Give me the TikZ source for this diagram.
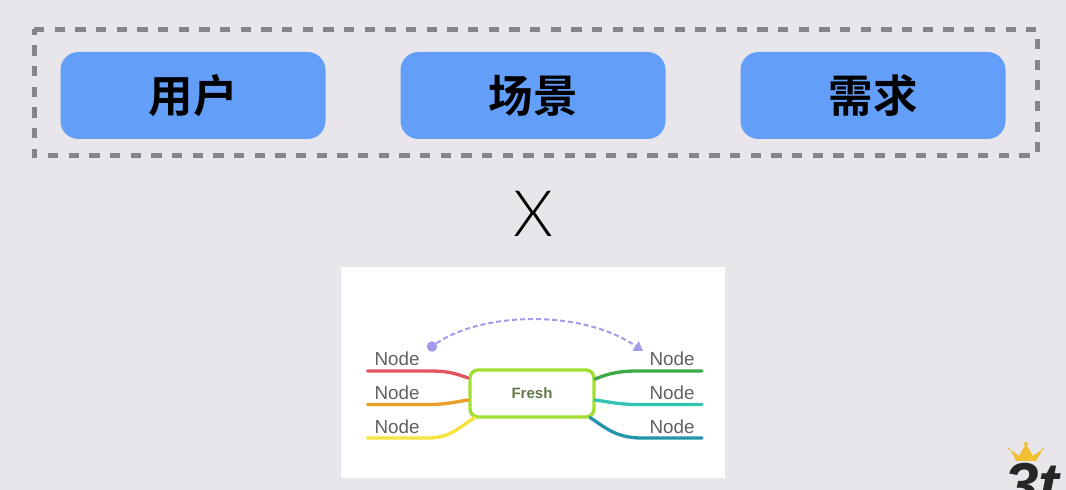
\documentclass[tikz,border=0pt]{standalone}
\usepackage{fontspec}
\setmainfont{Liberation Sans}
\newfontfamily\cjkfont[BoldFont=* Bold]{Noto Sans CJK SC}
\newfontfamily\thinfont[UprightFont=* Light]{Lato}
\usetikzlibrary{arrows.meta}
\definecolor{bgc}{HTML}{E8E6EA}
\definecolor{boxblue}{HTML}{639EF8}
\definecolor{dashgrey}{HTML}{86848C}
\definecolor{freshgreen}{HTML}{A2DF32}
\definecolor{purple1}{HTML}{A49AEC}
\tikzset{
  x=1pt,y=1pt,
  bluebox/.style={fill=boxblue,draw=none,rounded corners=18pt,minimum width=265pt,minimum height=87pt,inner sep=0pt,
    font=\cjkfont\bfseries\fontsize{44.5}{44.5}\selectfont,text=black},
  leaf/.style={font=\fontsize{18.8}{19}\selectfont,text=black!62,inner sep=0pt},
  branch/.style={line width=3.3pt,line cap=round},
}
\begin{document}
\begin{tikzpicture}
\useasboundingbox (0,0) rectangle (1066,490);
\clip (0,0) rectangle (1066,490);
\fill[bgc] (0,0) rectangle (1066,490);
% dashed frame, drawn clockwise from its top left corner
\node[minimum width=1003pt,minimum height=126.5pt,inner sep=0pt,outer sep=0pt] (frame) at (535.5,397.7) {};
\draw[dashgrey,line width=5pt,dash pattern=on 10.2pt off 10.47pt]
  (frame.north west) -- (frame.north east) -- (frame.south east) -- (frame.south west) -- cycle;
\node[bluebox] (user) at (193,394.5) {用户};
\node[bluebox] (scene) at (533,394.5) {场景};
\node[bluebox] (need) at (873,394.5) {需求};
\node[font=\thinfont\fontsize{64}{64}\selectfont,inner sep=0pt] (times) at (533.5,276.5) {X};
% picture
\node[fill=white,minimum width=384pt,minimum height=211pt,inner sep=0pt] (pic) at (533,117.5) {};
\node[draw=freshgreen,line width=3.4pt,rounded corners=8pt,fill=white,minimum width=124pt,minimum height=47pt,inner sep=0pt,
  font=\bfseries\fontsize{15}{15}\selectfont,text={rgb,255:red,96;green,122;blue,72}] (fresh) at (532,96.5) {Fresh};
\node[leaf] (n1) at (397,131) {Node};
\node[leaf] (n2) at (397,97) {Node};
\node[leaf] (n3) at (397,63) {Node};
\node[leaf] (n4) at (672,131) {Node};
\node[leaf] (n5) at (672,97) {Node};
\node[leaf] (n6) at (672,63) {Node};
\coordinate (e1) at (367.5,119);
\coordinate (e2) at (367.5,85.5);
\coordinate (e3) at (367.5,52);
\coordinate (e4) at (702,119);
\coordinate (e5) at (702,85.5);
\coordinate (e6) at (702,52);
\coordinate (s1) at (468,112);
\coordinate (s2) at (468,90);
\coordinate (s3) at (475,72.5);
\coordinate (s4) at (595,111);
\coordinate (s5) at (595,90);
\coordinate (s6) at (590,72.5);
\draw[branch,color={rgb,255:red,226;green,84;blue,96}] (e1) -- (428,119) .. controls (445,119) and (452,118) .. (s1);
\draw[branch,color={rgb,255:red,232;green,160;blue,40}] (e2) -- (430,85.5) .. controls (445,85.5) and (455,88) .. (s2);
\draw[branch,color={rgb,255:red,248;green,226;blue,60}] (e3) -- (428,52) .. controls (450,52) and (458,62) .. (s3);
\draw[branch,color={rgb,255:red,62;green,170;blue,70}] (e4) -- (638,119) .. controls (620,119) and (610,117) .. (s4);
\draw[branch,color={rgb,255:red,50;green,196;blue,176}] (e5) -- (636,85.5) .. controls (620,85.5) and (610,88) .. (s5);
\draw[branch,color={rgb,255:red,36;green,148;blue,170}] (e6) -- (642,52) .. controls (616,52) and (606,62) .. (s6);
% dashed arc
\node[circle,fill=purple1,minimum size=10.5pt,inner sep=0pt] (dot) at (432,143.5) {};
\coordinate (tip) at (643,139);
\draw[purple1,line width=2pt,dash pattern=on 5pt off 3pt,-{Triangle[length=9pt,width=11pt]}] (dot) .. controls (480,177) and (580,182) .. (tip);
% logo
\node[inner sep=0pt,anchor=base west,font=\bfseries\itshape\fontsize{62}{62}\selectfont,text={rgb,255:red,38;green,38;blue,40}] (logo) at (1004,-17) {3t};
\fill[color={rgb,255:red,242;green,190;blue,50}] (1010,41) -- (1019,34) -- (1026,46) -- (1033,34) -- (1043,41) -- (1036,29) -- (1016,29) -- cycle;
\fill[color={rgb,255:red,242;green,190;blue,50}] (1026,46) circle (2pt) (1009,41) circle (1.2pt) (1043,41) circle (1.2pt);
\end{tikzpicture}
\end{document}
